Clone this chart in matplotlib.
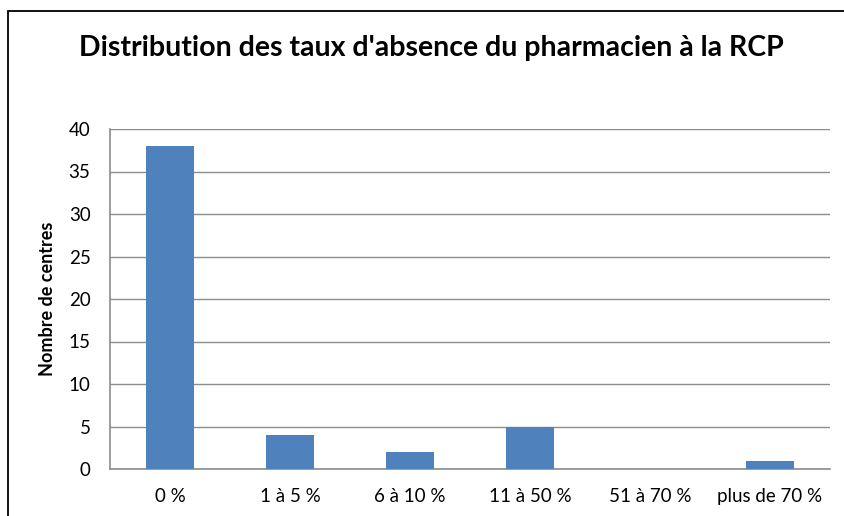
import matplotlib.pyplot as plt
from matplotlib.patches import Rectangle

plt.rcParams["font.family"] = ["Lato", "DejaVu Sans"]

categories = ["0 %", "1 à 5 %", "6 à 10 %", "11 à 50 %", "51 à 70 %", "plus de 70 %"]
counts = [38, 4, 2, 5, 0, 1]
y_ticks = [0, 5, 10, 15, 20, 25, 30, 35, 40]

fig = plt.figure(figsize=(8.44, 5.16), dpi=100)
ax = fig.add_axes([110 / 844, 1 - 469 / 516, 720 / 844, 340 / 516])

x = range(len(categories))
ax.bar(x, counts, width=0.4, color="#4F81BD", zorder=3)

ax.set_xlim(-0.5, len(categories) - 0.5)
ax.set_ylim(0, 40)
ax.set_yticks(y_ticks)
ax.set_xticks(list(x))
ax.set_xticklabels(categories)
ax.tick_params(length=0, labelsize=13.5, colors="black")
ax.tick_params(axis="y", pad=14)
ax.tick_params(axis="x", pad=14)
ax.yaxis.grid(True, color="#8c8c8c", linewidth=1, zorder=0)

for side in ["top", "right"]:
    ax.spines[side].set_visible(False)
for side in ["left", "bottom"]:
    ax.spines[side].set_color("#8c8c8c")
    ax.spines[side].set_linewidth(1.2)

ax.set_ylabel("Nombre de centres", fontsize=13, fontweight="bold", labelpad=9)

fig.text(431 / 844, 1 - 48 / 516, "Distribution des taux d'absence du pharmacien à la RCP",
         ha="center", va="center", fontsize=20.5, fontweight="bold")

# outer chart frame
fig.patches.append(Rectangle((8 / 844, -0.1), 1.2, 1.1 - 11 / 516, transform=fig.transFigure,
                             fill=False, edgecolor="black", linewidth=1.3))

fig.savefig("out.png", dpi=100)
